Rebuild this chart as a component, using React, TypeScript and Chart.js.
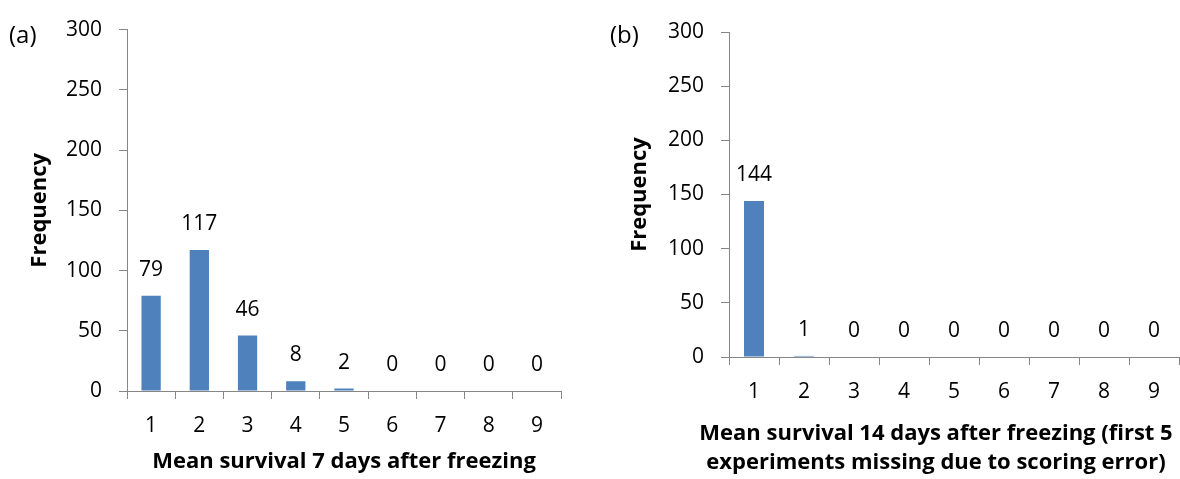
import React, { useEffect, useRef } from "react";
import { Chart, registerables } from "chart.js";

Chart.register(...registerables);

const categories = ["1", "2", "3", "4", "5", "6", "7", "8", "9"];
const survival7 = [79, 117, 46, 8, 2, 0, 0, 0, 0];
const survival14 = [144, 1, 0, 0, 0, 0, 0, 0, 0];
const yTicks = [0, 50, 100, 150, 200, 250, 300];
const titleA = ["Mean survival 7 days after freezing"];
const titleB = [
  "Mean survival 14 days after freezing (first 5",
  "experiments missing due to scoring error)",
];
const yTitle = "Frequency";

const FONT = "'Open Sans'";
const AXIS = "#868686";
const BAR = "#4F81BD";

const valueLabels = {
  id: "valueLabels",
  afterDatasetsDraw(chart: any) {
    const ctx = chart.ctx;
    ctx.save();
    ctx.font = `21px ${FONT}`;
    ctx.fillStyle = "#000";
    ctx.textAlign = "center";
    ctx.textBaseline = "middle";
    chart.data.datasets.forEach((ds: any, di: number) => {
      const meta = chart.getDatasetMeta(di);
      meta.data.forEach((el: any, i: number) => {
        ctx.fillText(String(ds.data[i]), el.x, el.y - 26);
      });
    });
    ctx.restore();
  },
};

const xTitlePlugin = {
  id: "xTitlePlugin",
  afterDraw(chart: any, _args: any, opts: any) {
    const ctx = chart.ctx;
    const area = chart.chartArea;
    ctx.save();
    ctx.font = `bold 22px ${FONT}`;
    ctx.fillStyle = "#000";
    ctx.textAlign = "center";
    ctx.textBaseline = "middle";
    const cx = (area.left + area.right) / 2 + opts.dx;
    (opts.lines as string[]).forEach((line, i) => {
      ctx.fillText(line, cx, area.bottom + opts.dy + i * opts.gap);
    });
    ctx.restore();
  },
};

function makeConfig(
  data: number[],
  xTitle: string[],
  opts: { yWidth: number; xHeight: number; padTop: number; padRight: number; dx: number; dy: number; yTitlePad: number }
): any {
  return {
    type: "bar",
    data: {
      labels: categories,
      datasets: [
        {
          data,
          backgroundColor: BAR,
          borderWidth: 0,
          barPercentage: 0.4,
          categoryPercentage: 1,
        },
      ],
    },
    plugins: [valueLabels, xTitlePlugin],
    options: {
      responsive: false,
      animation: false,
      layout: { padding: { left: 0, right: opts.padRight, top: opts.padTop, bottom: 0 } },
      plugins: {
        legend: { display: false },
        tooltip: { enabled: false },
        xTitlePlugin: { lines: xTitle, dx: opts.dx, dy: opts.dy, gap: 29 },
      },
      scales: {
        x: {
          grid: { drawOnChartArea: false, drawTicks: true, tickLength: 8, color: AXIS, offset: true },
          border: { display: true, color: AXIS, width: 1 },
          ticks: { color: "#000", font: { family: FONT, size: 21 }, padding: 14, maxRotation: 0 },
          afterFit: (s: any) => {
            s.height = opts.xHeight;
          },
        },
        y: {
          min: 0,
          max: 300,
          afterBuildTicks: (s: any) => {
            s.ticks = yTicks.map((v) => ({ value: v }));
          },
          grid: { drawOnChartArea: false, drawTicks: true, tickLength: 8, color: AXIS },
          border: { display: true, color: AXIS, width: 1 },
          ticks: { color: "#000", font: { family: FONT, size: 21 }, padding: 17 },
          title: {
            display: true,
            text: yTitle,
            color: "#000",
            font: { family: FONT, size: 22, weight: "bold", lineHeight: 1.2 },
            padding: { top: opts.yTitlePad, bottom: 0 },
          },
          afterFit: (s: any) => {
            s.width = opts.yWidth;
          },
        },
      },
    },
  };
}

function Panel({ left, config, label, labelLeft }: any) {
  const ref = useRef<HTMLCanvasElement>(null);
  useEffect(() => {
    const chart = new Chart(ref.current as HTMLCanvasElement, config);
    return () => chart.destroy();
  }, []);
  return (
    <div style={{ position: "absolute", left, top: 0, width: 590, height: 479 }}>
      <canvas ref={ref} width={590} height={479} style={{ width: 590, height: 479, display: "block" }} />
      <div
        style={{
          position: "absolute",
          left: labelLeft,
          top: 17,
          fontFamily: FONT,
          fontSize: 24,
          lineHeight: "34px",
          color: "#000",
        }}
      >
        {label}
      </div>
    </div>
  );
}

export default function App() {
  const cfgA = makeConfig(survival7, titleA, {
    yWidth: 127,
    xHeight: 88,
    padTop: 22,
    padRight: 29,
    dx: 0,
    dy: 71,
    yTitlePad: 27,
  });
  const cfgB = makeConfig(survival14, titleB, {
    yWidth: 139,
    xHeight: 122,
    padTop: 32,
    padRight: 1,
    dx: -18,
    dy: 77,
    yTitlePad: 37,
  });
  return (
    <div style={{ position: "fixed", left: 0, top: 0, width: 1180, height: 479, background: "#fff" }}>
      <Panel left={0} config={cfgA} label="(a)" labelLeft={9} />
      <Panel left={590} config={cfgB} label="(b)" labelLeft={20} />
    </div>
  );
}
